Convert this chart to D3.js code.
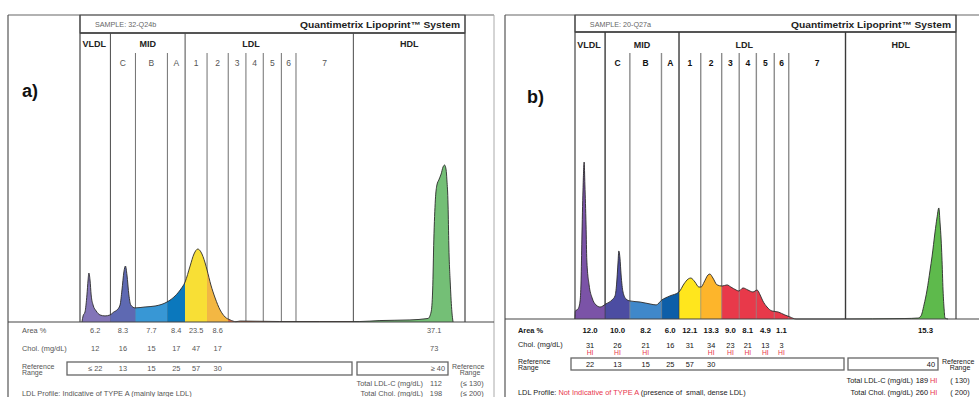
<!DOCTYPE html>
<html><head><meta charset="utf-8">
<script src="https://cdn.jsdelivr.net/npm/d3@7"></script>
<style>
body{margin:0;background:#fff;}
svg{display:block;font-family:"Liberation Sans",Arial,Helvetica,sans-serif;}
</style>
</head><body>
<svg id="fig" width="979" height="397"></svg>
<script>
// Lipoprint bands and their boundaries on the mobility axis (0–100 % of the gel track)
const bandNames = ["VLDL", "C", "B", "A", "1", "2", "3", "4", "5", "6", "7", "HDL"];
const bandEdges = [0, 7.9, 14.4, 22.7, 27.3, 33.0, 38.5, 43.1, 47.6, 52.3, 56.1, 71.0, 100];
const groupNames = ["VLDL", "MID", "LDL", "HDL"];
const groupCenters = [3.7, 17.6, 44.4, 85.5];
const hdlValueColumn = 92;

const sampleA = "SAMPLE: 32-Q24b";
const sampleB = "SAMPLE: 20-Q27a";
const systemName = "Quantimetrix Lipoprint™ System";

// Densitometric scans: [mobility %, relative intensity]
const curveA = [
  [0.5, 0], [0.8, 3.8], [1.3, 6.3], [1.8, 16.9], [2.1, 26.3], [2.3, 30.6], [2.6, 26.3], [2.9, 16.9],
  [3.4, 10.6], [4.2, 6.9], [5.2, 4.4], [6.5, 3.8], [7.8, 4.4], [8.8, 6.3], [9.6, 7.5], [10.4, 10.6],
  [10.9, 20.0], [11.4, 31.3], [11.8, 35.0], [12.2, 29.4], [12.7, 16.9], [13.2, 10.6], [14.3, 8.8],
  [16.9, 9.4], [19.5, 10.0], [22.6, 12.5], [24.7, 16.3], [26.2, 20.6], [27.3, 25.0], [28.6, 35.0],
  [29.6, 42.5], [30.6, 45.6], [31.4, 43.8], [32.5, 36.9], [33.0, 32.5], [34.0, 23.1], [35.1, 15.0],
  [36.4, 7.5], [37.7, 3.1], [39.0, 1.3], [40.5, 0.2], [41.6, 0.6], [51.9, 0.3], [62.3, 0.3],
  [72.7, 0.3], [77.9, 0.9], [85.7, 1.3], [90.4, 2.2], [91.2, 6.3], [91.6, 20.0], [91.9, 51.3],
  [92.3, 76.3], [92.7, 85.6], [93.2, 88.8], [93.8, 92.5], [94.3, 96.9], [94.7, 98.1], [95.1, 95.0],
  [95.3, 88.8], [95.6, 73.1], [95.8, 48.1], [96.2, 23.1], [96.6, 6.3], [96.9, 0]
];
const curveB = [
  [0, 0], [0.1, 5.0], [0.8, 6.3], [1.3, 10.6], [1.6, 24.4], [1.8, 49.4], [2.1, 80.6], [2.4, 98.1],
  [2.6, 83.8], [2.9, 58.8], [3.1, 36.9], [3.7, 21.3], [4.5, 13.1], [5.5, 8.8], [6.6, 7.5], [8.1, 9.4],
  [9.7, 11.9], [10.5, 14.4], [10.9, 21.3], [11.3, 35.6], [11.5, 42.5], [11.8, 38.1], [12.1, 27.5],
  [12.6, 16.9], [13.4, 12.5], [14.4, 11.3], [17.1, 10.6], [19.7, 9.4], [21.3, 8.8], [22.8, 11.9],
  [24.9, 14.4], [27.3, 16.9], [28.6, 21.9], [29.7, 25.0], [30.4, 25.6], [31.5, 23.1], [32.5, 20.0],
  [33.1, 20.0], [33.9, 23.1], [34.9, 27.5], [35.4, 28.1], [36.2, 25.6], [37.3, 21.3], [38.6, 20.6],
  [39.9, 21.3], [40.9, 20.0], [42.3, 18.1], [43.0, 17.5], [44.1, 19.4], [45.4, 18.1], [46.7, 16.9],
  [47.8, 18.1], [48.6, 15.0], [49.3, 11.3], [50.4, 7.5], [51.7, 5.0], [53.3, 4.4], [55.1, 2.5],
  [56.4, 1.3], [58.0, 0], [69.6, 0], [86.6, 0.3], [90.0, 0.6], [90.8, 1.9], [91.6, 8.8], [92.4, 18.1],
  [93.2, 30.6], [93.7, 38.8], [94.5, 54.4], [95.0, 63.1], [95.5, 69.4], [95.8, 60.6], [96.1, 49.4],
  [96.3, 38.8], [96.6, 18.1], [96.9, 5.6], [97.1, 0.6], [97.9, 0]
];

// Per-band results (same order as bandNames)
const areaPctA = [6.2, 8.3, 7.7, 8.4, 23.5, 8.6, null, null, null, null, null, 37.1];
const cholA    = [12, 16, 15, 17, 47, 17, null, null, null, null, null, 73];
const refA     = ["≤ 22", "13", "15", "25", "57", "30", null, null, null, null, null, "≥ 40"];
const areaPctB = [12.0, 10.0, 8.2, 6.0, 12.1, 13.3, 9.0, 8.1, 4.9, 1.1, null, 15.3];
const cholB    = [31, 26, 21, 16, 31, 34, 23, 21, 13, 3, null, null];
const cholHiB  = [true, true, true, false, false, true, true, true, true, true, false, false];
const refB     = ["22", "13", "15", "25", "57", "30", null, null, null, null, null, "40"];

const totalLabels = ["Total LDL-C (mg/dL)", "Total Chol. (mg/dL)"];
const totalsA = [112, 198];
const totalsB = [189, 260];
const totalHiB = [true, true];
const limitsA = ["(≤ 130)", "(≤ 200)"];
const limitsB = ["( 130)", "( 200)"];

const profileA = [["LDL Profile: Indicative of TYPE A (mainly large LDL)", false]];
const profileB = [["LDL Profile: ", false], ["Not Indicative of TYPE A", true], [" (presence of  small, dense LDL)", false]];

const svg = d3.select("#fig");
const defs = svg.append("defs");
const HI_RED = "#e8374d";

const panels = [
  {
    id: "a", letter: "a)", letterX: 22, letterY: 97,
    sample: sampleA, curve: curveA, area: areaPctA, chol: cholA, cholHi: null, ref: refA,
    totals: totalsA, totalHi: [false, false], limits: limitsA, profile: profileA,
    frameL: 8, frameR: 494, top: 15, innerL: 80, innerR: 465, headBot: 33, subTop: 53, baseline: 322, amp: 160,
    groupY: 47, subY: 66,
    colors: ["#8375b8", "#5e69b2", "#3897d5", "#0b78bd", "#f8df35", "#f3b743", "#e4673b", "#e4673b", "#e4673b", "#e4673b", "#e4673b", "#74bf76"],
    ink: "#555", valueInk: "#555", lineCol: "#707070", majorCol: "#4a4a4a", linesOnTop: false, boldValues: false,
    rows: { label: 22, area: 333, chol: 351, hi: null, ref: [362, 375], refL: [67, 352], refR: [357, 448],
            tot: [386, 396], prof: 396, totEnd: 423, totVal: 436, totLim: 472 }
  },
  {
    id: "b", letter: "b)", letterX: 527, letterY: 103,
    sample: sampleB, curve: curveB, area: areaPctB, chol: cholB, cholHi: cholHiB, ref: refB,
    totals: totalsB, totalHi: totalHiB, limits: limitsB, profile: profileB,
    frameL: 505, frameR: 990, top: 15, innerL: 575, innerR: 956, headBot: 32, subTop: 53, baseline: 319, amp: 160,
    groupY: 48, subY: 66,
    colors: ["#7b53a7", "#4c4da2", "#4088ca", "#0d5ea8", "#ffe61d", "#fdb52b", "#e8394a", "#e8394a", "#e8394a", "#e8394a", "#e8394a", "#5eba4c"],
    ink: "#1a1a1a", valueInk: "#111", lineCol: "#8c8c8c", majorCol: "#3a3a3a", linesOnTop: true, boldValues: true,
    rows: { label: 518, area: 333, chol: 348, hi: 355, ref: [358, 370], refL: [571, 844], refR: [848, 938],
            tot: [383, 395], prof: 395, totEnd: 913, totVal: 928, totLim: 960 }
  }
];

function drawPanel(p) {
  const g = svg.append("g").attr("class", "panel-" + p.id);
  const x = d3.scaleLinear().domain([0, 100]).range([p.innerL, p.innerR]);
  const y = d3.scaleLinear().domain([0, 100]).range([p.baseline, p.baseline - p.amp]);
  const bandCenter = i => (bandEdges[i] + bandEdges[i + 1]) / 2;
  const valueCol = i => bandNames[i] === "HDL" ? hdlValueColumn : bandCenter(i);

  // outer frame
  g.append("line").attr("x1", p.frameL).attr("x2", p.frameR).attr("y1", p.top).attr("y2", p.top)
    .attr("stroke", "#666").attr("stroke-width", 1.2);
  g.append("line").attr("x1", p.frameL).attr("x2", p.frameL).attr("y1", p.top).attr("y2", 397)
    .attr("stroke", "#555").attr("stroke-width", 1.2);
  if (p.id === "a") {
    g.append("line").attr("x1", p.frameR).attr("x2", p.frameR).attr("y1", p.top).attr("y2", 397)
      .attr("stroke", "#aaa").attr("stroke-width", 1);
  }

  // header box
  g.append("rect").attr("x", p.innerL).attr("y", p.top).attr("width", p.innerR - p.innerL)
    .attr("height", p.headBot - p.top).attr("fill", "none").attr("stroke", "#666").attr("stroke-width", 1);
  g.append("line").attr("x1", p.innerL).attr("x2", p.innerR).attr("y1", p.headBot).attr("y2", p.headBot)
    .attr("stroke", "#555").attr("stroke-width", 1.8);
  g.append("text").attr("x", x(3.9)).attr("y", p.top + 12).attr("font-size", 7.2).attr("fill", "#666")
    .text(p.sample);
  g.append("text").attr("x", p.innerR - 5).attr("y", p.top + 13).attr("text-anchor", "end")
    .attr("font-size", 9.2).attr("font-weight", "bold").attr("fill", "#222")
    .attr("textLength", 160).attr("lengthAdjust", "spacingAndGlyphs").text(systemName);

  // inner side borders
  [p.innerL, p.innerR].forEach(v => g.append("line").attr("x1", v).attr("x2", v)
    .attr("y1", p.top).attr("y2", p.baseline).attr("stroke", "#444").attr("stroke-width", 1.2));

  // band separators
  const majors = new Set([1, 4, 11]);
  const sepG = g.append("g");
  function drawSeparators(target, opacity) {
    d3.range(1, bandEdges.length - 1).forEach(i => {
      const major = majors.has(i);
      target.append("line").attr("x1", x(bandEdges[i])).attr("x2", x(bandEdges[i]))
        .attr("y1", major ? p.headBot : p.subTop).attr("y2", p.baseline)
        .attr("stroke", major ? p.majorCol : p.lineCol)
        .attr("stroke-width", p.id === "b" ? 1.4 : 1)
        .attr("stroke-opacity", opacity);
    });
  }
  drawSeparators(sepG, 1);

  // filled profile, one colour per band
  const area = d3.area().x(d => x(d[0])).y0(y(0)).y1(d => y(d[1])).curve(d3.curveMonotoneX);
  const line = d3.line().x(d => x(d[0])).y(d => y(d[1])).curve(d3.curveMonotoneX);
  bandNames.forEach((b, i) => {
    const cid = `clip-${p.id}-${i}`;
    defs.append("clipPath").attr("id", cid).append("rect")
      .attr("x", x(bandEdges[i])).attr("width", x(bandEdges[i + 1]) - x(bandEdges[i]))
      .attr("y", p.top).attr("height", p.baseline - p.top);
    g.append("path").datum(p.curve).attr("clip-path", `url(#${cid})`)
      .attr("fill", p.colors[i]).attr("d", area);
  });
  if (p.linesOnTop) {
    const overG = g.append("g").attr("clip-path", null);
    const fillClip = `clip-fill-${p.id}`;
    defs.append("clipPath").attr("id", fillClip).append("path").datum(p.curve).attr("d", area);
    overG.attr("clip-path", `url(#${fillClip})`);
    drawSeparators(overG, 0.45);
  }
  g.append("path").datum(p.curve).attr("fill", "none").attr("stroke", "#2a2a2a")
    .attr("stroke-width", 0.9).attr("d", line);

  // baseline
  g.append("line").attr("x1", p.frameL).attr("x2", p.frameR).attr("y1", p.baseline).attr("y2", p.baseline)
    .attr("stroke", "#444").attr("stroke-width", 1.2);

  // group and band headings
  groupNames.forEach((n, i) => g.append("text").attr("x", x(groupCenters[i])).attr("y", p.groupY)
    .attr("text-anchor", "middle").attr("font-size", 9).attr("font-weight", "bold").attr("fill", "#222").text(n));
  bandNames.forEach((n, i) => {
    if (i === 0 || i === bandNames.length - 1) return;
    g.append("text").attr("x", x(bandCenter(i))).attr("y", p.subY).attr("text-anchor", "middle")
      .attr("font-size", 8.5).attr("fill", p.id === "a" ? "#555" : "#111")
      .attr("font-weight", p.id === "b" ? "bold" : "normal").text(n);
  });

  // panel letter
  g.append("text").attr("x", p.letterX).attr("y", p.letterY).attr("font-size", 18)
    .attr("font-weight", "bold").attr("fill", "#111").text(p.letter);

  // results table
  const r = p.rows;
  const fs = 7.4;
  const txt = (xx, yy, s, anchor, color, weight, size) => g.append("text").attr("x", xx).attr("y", yy)
    .attr("text-anchor", anchor || "start").attr("font-size", size || fs).attr("fill", color || p.ink)
    .attr("font-weight", weight || "normal").text(s);

  txt(r.label, r.area, "Area %", "start", p.ink, p.boldValues ? "bold" : "normal");
  txt(r.label, p.id === "b" ? r.chol - 1 : r.chol, "Chol. (mg/dL)");
  p.area.forEach((v, i) => {
    if (v == null) return;
    txt(x(valueCol(i)), r.area, v.toFixed(1), "middle", p.valueInk, p.boldValues ? "bold" : "normal", p.id === "b" ? 7.8 : fs);
  });
  p.chol.forEach((v, i) => {
    if (v == null) return;
    txt(x(valueCol(i)), r.chol, String(v), "middle", p.valueInk);
    if (p.cholHi && p.cholHi[i]) txt(x(valueCol(i)), r.hi, "HI", "middle", HI_RED, "normal", 6.8);
  });

  // reference range boxes
  [r.refL, r.refR].forEach(ext => g.append("rect").attr("x", ext[0]).attr("y", r.ref[0])
    .attr("width", ext[1] - ext[0]).attr("height", r.ref[1] - r.ref[0])
    .attr("fill", "none").attr("stroke", "#666").attr("stroke-width", 1.3));
  const refMid = (r.ref[0] + r.ref[1]) / 2 + 2.6;
  p.ref.forEach((v, i) => {
    if (v == null) return;
    if (bandNames[i] === "HDL") txt(r.refR[1] - 3, refMid, v, "end", p.valueInk);
    else txt(x(bandCenter(i)), refMid, v, "middle", p.valueInk);
  });
  [[r.label, "start"], [r.refR[1] + 4, "start"]].forEach(([lx], k) => {
    txt(lx, refMid - 2.5, "Reference", "start", p.ink, "normal", 7);
    txt(k === 0 ? lx : lx + 18, refMid + 3.5, "Range", k === 0 ? "start" : "middle", p.ink, "normal", 7);
  });

  // totals
  totalLabels.forEach((lab, k) => {
    txt(r.totEnd, r.tot[k], lab, "end");
    if (p.totalHi[k]) {
      txt(r.totVal, r.tot[k], String(p.totals[k]), "end", p.valueInk);
      txt(r.totVal + 2, r.tot[k], "HI", "start", HI_RED);
    } else {
      txt(r.totVal, r.tot[k], String(p.totals[k]), "middle", p.valueInk);
    }
    txt(r.totLim, r.tot[k], p.limits[k], "middle");
  });

  // profile statement
  const prof = g.append("text").attr("x", r.label).attr("y", r.prof).attr("font-size", fs).attr("fill", p.ink)
    .attr("xml:space", "preserve");
  p.profile.forEach(([s, warn]) => prof.append("tspan").attr("fill", warn ? HI_RED : p.ink).text(s));
}

panels.forEach(drawPanel);
</script>
</body></html>
